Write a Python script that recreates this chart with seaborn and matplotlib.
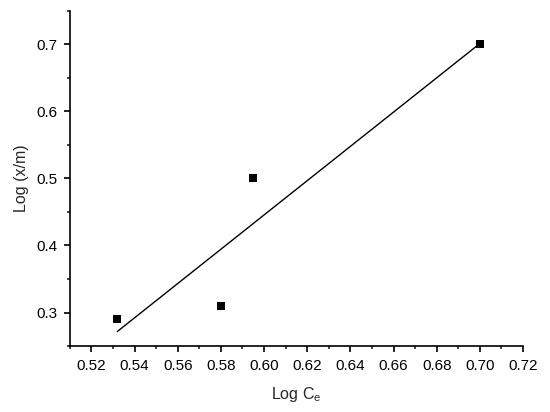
import numpy as np
import pandas as pd
import matplotlib
matplotlib.use("Agg")
import matplotlib.pyplot as plt
import seaborn as sns
from matplotlib.ticker import MultipleLocator

# adsorption isotherm data (Freundlich)
log_ce = [0.532, 0.580, 0.595, 0.700]
log_xm = [0.29, 0.31, 0.50, 0.70]

df = pd.DataFrame({"log_ce": log_ce, "log_xm": log_xm})

sns.set_style("ticks")
plt.rcParams["font.family"] = ["Liberation Sans", "DejaVu Sans"]

fig = plt.figure(figsize=(5.5, 4.12), dpi=100)
ax = fig.add_axes([0.127, 0.160, 0.824, 0.814])

# linear fit line, drawn over the data range
slope, intercept = np.polyfit(df["log_ce"], df["log_xm"], 1)
fit_x = np.array([df["log_ce"].min(), df["log_ce"].max()])
fit = pd.DataFrame({"x": fit_x, "y": slope * fit_x + intercept})
sns.lineplot(data=fit, x="x", y="y", ax=ax, color="black", linewidth=1.0)

sns.scatterplot(data=df, x="log_ce", y="log_xm", ax=ax, marker="s",
                color="black", s=30, edgecolor="black", linewidth=0, zorder=3)

ax.set_xlim(0.51, 0.72)
ax.set_ylim(0.25, 0.75)
ax.xaxis.set_major_locator(MultipleLocator(0.02))
ax.xaxis.set_minor_locator(MultipleLocator(0.01))
ax.yaxis.set_major_locator(MultipleLocator(0.1))
ax.yaxis.set_minor_locator(MultipleLocator(0.05))
ax.xaxis.set_major_formatter(matplotlib.ticker.FormatStrFormatter("%.2f"))
ax.yaxis.set_major_formatter(matplotlib.ticker.FormatStrFormatter("%.1f"))

ax.tick_params(which="major", direction="out", length=4, width=1.2, labelsize=11,
               colors="black", pad=5)
ax.tick_params(which="minor", direction="out", length=2.5, width=1.2)

sns.despine(ax=ax)
for s in ["left", "bottom"]:
    ax.spines[s].set_linewidth(1.2)
    ax.spines[s].set_color("black")

ax.set_xlabel("Log C$_\\mathregular{e}$", fontsize=11.5, labelpad=9)
ax.set_ylabel("Log (x/m)", fontsize=11.5, labelpad=5)

fig.savefig("out.png", dpi=100)
